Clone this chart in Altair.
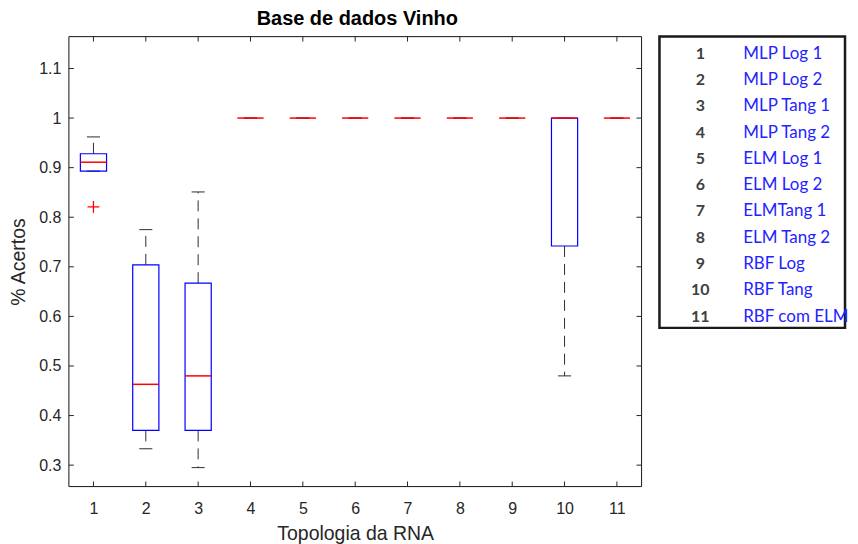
import altair as alt
import pandas as pd

# ---- data ----
topology = [1, 2, 3, 4, 5, 6, 7, 8, 9, 10, 11]
whisker_low = [0.893, 0.333, 0.295, 1.0, 1.0, 1.0, 1.0, 1.0, 1.0, 0.480, 1.0]
q1 = [0.893, 0.370, 0.370, 1.0, 1.0, 1.0, 1.0, 1.0, 1.0, 0.742, 1.0]
median = [0.911, 0.463, 0.480, 1.0, 1.0, 1.0, 1.0, 1.0, 1.0, 1.0, 1.0]
q3 = [0.928, 0.704, 0.667, 1.0, 1.0, 1.0, 1.0, 1.0, 1.0, 1.0, 1.0]
whisker_high = [0.962, 0.775, 0.851, 1.0, 1.0, 1.0, 1.0, 1.0, 1.0, 1.0, 1.0]
outlier_x = [1]
outlier_y = [0.821]

y_ticks = [0.3, 0.4, 0.5, 0.6, 0.7, 0.8, 0.9, 1.0, 1.1]
x_ticks = topology

legend_numbers = [1, 2, 3, 4, 5, 6, 7, 8, 9, 10, 11]
legend_names = ["MLP Log 1", "MLP Log 2", "MLP Tang 1", "MLP Tang 2", "ELM Log 1",
                "ELM Log 2", "ELMTang 1", "ELM Tang 2", "RBF Log", "RBF Tang",
                "RBF com ELM"]

df = pd.DataFrame({"t": topology, "lo": whisker_low, "q1": q1, "med": median,
                   "q3": q3, "hi": whisker_high})
out_df = pd.DataFrame({"t": outlier_x, "v": outlier_y})
ytick_df = pd.DataFrame({"v": y_ticks})
xtick_df = pd.DataFrame({"v": x_ticks})
one = pd.DataFrame({"a": [0]})
leg_df = pd.DataFrame({"n": legend_numbers, "name": legend_names})

W, H = 574, 451
FONT = "Liberation Sans"
TXT = "#262626"

xs = alt.Scale(domain=[0.53, 11.47], nice=False, zero=False)
ys = alt.Scale(domain=[0.2569, 1.1644], nice=False, zero=False)

base = alt.Chart(df).transform_calculate(
    bl="datum.t - 0.25", br="datum.t + 0.25",
    cl="datum.t - 0.125", cr="datum.t + 0.125")

x_axis = alt.Axis(values=x_ticks, ticks=False, domain=False, grid=False,
                  labelFont=FONT, labelFontSize=16, labelColor=TXT, labelPadding=14,
                  title="Topologia da RNA", titleFont=FONT, titleFontSize=19.5,
                  titleFontWeight="normal", titleColor=TXT, titlePadding=8)
y_axis = alt.Axis(values=y_ticks, ticks=False, domain=False, grid=False, format="~g",
                  labelFont=FONT, labelFontSize=16, labelColor=TXT, labelPadding=8,
                  title="% Acertos", titleFont=FONT, titleFontSize=19.5,
                  titleFontWeight="normal", titleColor=TXT, titlePadding=10)


def X(f):
    return alt.X(f, scale=xs, axis=x_axis)


def Y(f):
    return alt.Y(f, scale=ys, axis=y_axis)


WHISK = "#2e2e2e"
whisk_hi = base.mark_rule(color=WHISK, strokeDash=[11, 7], strokeWidth=1).encode(
    x=X("t:Q"), y=Y("q3:Q"), y2="hi:Q")
whisk_lo = base.mark_rule(color=WHISK, strokeDash=[11, 7], strokeWidth=1).encode(
    x=X("t:Q"), y=Y("q1:Q"), y2="lo:Q")
cap_hi = base.mark_rule(color=WHISK, strokeWidth=1).encode(
    x=X("cl:Q"), x2="cr:Q", y=Y("hi:Q"))
cap_lo = base.mark_rule(color=WHISK, strokeWidth=1).encode(
    x=X("cl:Q"), x2="cr:Q", y=Y("lo:Q"))
box = base.transform_filter("datum.q3 > datum.q1").mark_rect(
    fill="white", fillOpacity=0, stroke="#0000ff", strokeWidth=1.2).encode(
    x=X("bl:Q"), x2="br:Q", y=Y("q1:Q"), y2="q3:Q")
med = base.mark_rule(color="#ff0000", strokeWidth=1.5).encode(
    x=X("bl:Q"), x2="br:Q", y=Y("med:Q"))
outl = alt.Chart(out_df).mark_point(shape="M-1,0L1,0M0,-1L0,1", size=140, filled=False,
                                    color="#ff0000", strokeWidth=1.3, opacity=1).encode(
    x=X("t:Q"), y=Y("v:Q"))

frame = alt.Chart(one).mark_rect(fillOpacity=0, stroke=TXT, strokeWidth=1).encode(
    x=alt.value(0), x2=alt.value(W), y=alt.value(0), y2=alt.value(H))
yt_l = alt.Chart(ytick_df).mark_rule(color=TXT).encode(
    y=Y("v:Q"), x=alt.value(0), x2=alt.value(5))
yt_r = alt.Chart(ytick_df).mark_rule(color=TXT).encode(
    y=Y("v:Q"), x=alt.value(W - 5), x2=alt.value(W))
xt_b = alt.Chart(xtick_df).mark_rule(color=TXT).encode(
    x=X("v:Q"), y=alt.value(H - 5), y2=alt.value(H))
xt_t = alt.Chart(xtick_df).mark_rule(color=TXT).encode(
    x=X("v:Q"), y=alt.value(0), y2=alt.value(5))

main = alt.layer(whisk_hi, whisk_lo, cap_hi, cap_lo, box, med, outl,
                 frame, yt_l, yt_r, xt_b, xt_t).properties(width=W, height=H)

LW, LH = 186, 292
ls = alt.Scale(domain=[0.343, 11.43], reverse=True, nice=False, zero=False)
leg_box = alt.Chart(one).mark_rect(fillOpacity=0, stroke="#1a1a1a", strokeWidth=2.5).encode(
    x=alt.value(0), x2=alt.value(LW), y=alt.value(0), y2=alt.value(LH))
leg_num = alt.Chart(leg_df).mark_text(align="center", baseline="middle", font="Lato",
                                      fontSize=16, fontWeight="bold", color="#404040").encode(
    x=alt.value(41), y=alt.Y("n:Q", scale=ls, axis=None), text="n:N")
leg_name = alt.Chart(leg_df).mark_text(align="left", baseline="middle", font="Lato",
                                       fontSize=17, color="#2323ff").encode(
    x=alt.value(84), y=alt.Y("n:Q", scale=ls, axis=None), text="name:N")
legend = alt.layer(leg_box, leg_num, leg_name).properties(width=LW, height=LH)

chart = alt.hconcat(main, legend, spacing=15).properties(
    title=alt.TitleParams("Base de dados Vinho", anchor="start", dx=249, font=FONT,
                          fontSize=20, fontWeight="bold", color="#000000", offset=6),
    padding={"left": 0, "top": 0, "right": 0, "bottom": 0}
).configure_view(stroke=None).configure(background="white")

chart.save("out.html", embed_options={"renderer": "svg", "actions": False})
